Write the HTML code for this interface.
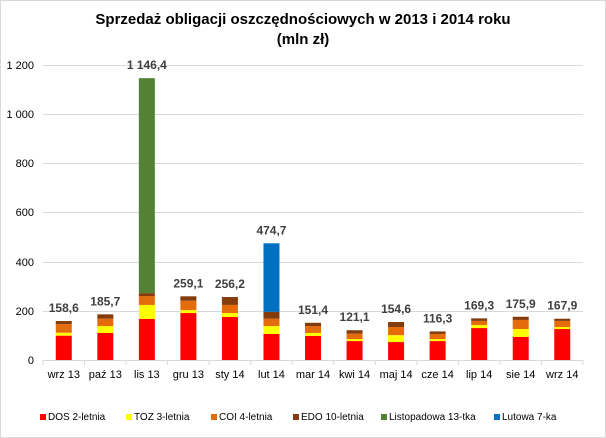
<!DOCTYPE html>
<html><head><meta charset="utf-8"><style>
body{margin:0;background:#fff}
svg{display:block;font-family:"Liberation Sans",sans-serif}
</style></head><body>
<svg width="606" height="438" viewBox="0 0 606 438">
<rect x="0.5" y="0.5" width="605" height="437" fill="#fff" stroke="#d9d9d9"/>
<text x="303" y="24" text-anchor="middle" font-size="15" font-weight="bold" fill="#000">Sprzedaż obligacji oszczędnościowych w 2013 i 2014 roku</text>
<text x="303" y="44" text-anchor="middle" font-size="15" font-weight="bold" fill="#000">(mln zł)</text>
<g stroke="#d9d9d9" stroke-width="1">
<line x1="43" x2="583" y1="65.5" y2="65.5"/><line x1="43" x2="583" y1="114.5" y2="114.5"/>
<line x1="43" x2="583" y1="163.5" y2="163.5"/><line x1="43" x2="583" y1="212.5" y2="212.5"/>
<line x1="43" x2="583" y1="262.5" y2="262.5"/><line x1="43" x2="583" y1="311.5" y2="311.5"/>
<line x1="43" x2="583" y1="360.5" y2="360.5"/>
</g>
<g font-size="11" fill="#000" text-anchor="end">
<text x="34" y="69">1 200</text><text x="34" y="118">1 000</text><text x="34" y="167">800</text>
<text x="34" y="216">600</text><text x="34" y="266">400</text><text x="34" y="315">200</text><text x="34" y="364">0</text>
</g>
<g id="bars"></g>
<g font-size="11" fill="#000" text-anchor="middle" id="cats"></g>
<g font-size="12" font-weight="bold" fill="#404040" text-anchor="middle" id="lbls"></g>
<g font-size="10" fill="#000">
<rect x="40" y="414" width="6" height="6" fill="#ff0000"/><text x="48" y="420">DOS 2-letnia</text>
<rect x="126" y="414" width="6" height="6" fill="#ffff00"/><text x="134" y="420">TOZ 3-letnia</text>
<rect x="211" y="414" width="6" height="6" fill="#e46c0a"/><text x="219" y="420">COI 4-letnia</text>
<rect x="293" y="414" width="6" height="6" fill="#843c0c"/><text x="301" y="420">EDO 10-letnia</text>
<rect x="381" y="414" width="6" height="6" fill="#548235"/><text x="389" y="420">Listopadowa 13-tka</text>
<rect x="494" y="414" width="6" height="6" fill="#0070c0"/><text x="502" y="420">Lutowa 7-ka</text>
</g>
</svg>
<script>
const d=[["wrz 13",99,111,146,158.6,0,0],["paź 13",110,138,168,185.7,0,0],["lis 13",167,224,260,272,1146.4,0],
["gru 13",191,203,241,259.1,0,0],["sty 14",175,191,224,256.2,0,0],["lut 14",106,138,168,196,0,474.7],
["mar 14",98,110,138,151.4,0,0],["kwi 14",77,85,107,121.1,0,0],["maj 14",73,101,134,154.6,0,0],
["cze 14",77,85,106,116.3,0,0],["lip 14",130,142,159,169.3,0,0],["sie 14",94,126,163,175.9,0,0],["wrz 14",126,134,159,167.9,0,0]];
const ns="http://www.w3.org/2000/svg",cols=["#ff0000","#ffff00","#e46c0a","#843c0c","#548235","#0070c0"];
const Y=v=>360-v*0.24583,B=document.getElementById("bars"),C=document.getElementById("cats"),L=document.getElementById("lbls");
function el(p,t,a,txt){const e=document.createElementNS(ns,t);for(const k in a)e.setAttribute(k,a[k]);if(txt)e.textContent=txt;p.appendChild(e);}
d.forEach((r,i)=>{const cx=43+20.77+41.54*i;let prev=0,tot=0;
for(let s=0;s<6;s++){const v=r[s+1];if(!v)continue;el(B,"rect",{x:cx-8,y:Y(v),width:16,height:Y(prev)-Y(v),fill:cols[s]});prev=v;tot=v;}
el(C,"text",{x:cx,y:378},r[0]);
el(B,"line",{x1:43+41.54*i,x2:43+41.54*i,y1:360,y2:365,stroke:"#d9d9d9"});
el(L,"text",{x:cx,y:Y(tot)-9},tot.toFixed(1).replace(".",",").replace(/^(\d)(\d{3})/,"$1 $2"));});
el(B,"line",{x1:583,x2:583,y1:360,y2:365,stroke:"#d9d9d9"});
</script>
</body></html>
